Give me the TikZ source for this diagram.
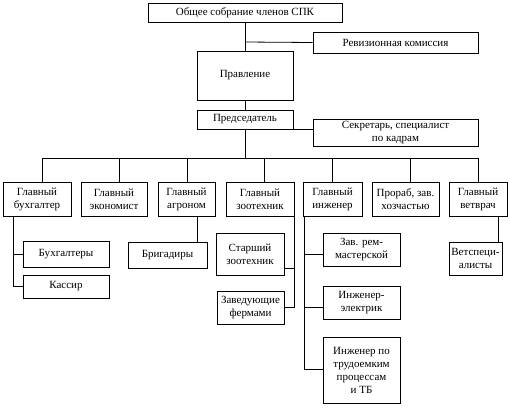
\documentclass[tikz,border=0pt]{standalone}
\usepackage{fontspec}
\setmainfont{Liberation Serif}
\usetikzlibrary{positioning}
\tikzstyle{block} = [rectangle, draw, line width=0.8pt, align=center,
    inner sep=1pt, font=\fontsize{11}{13}\selectfont]
\tikzstyle{line} = [draw, line width=0.8pt]

\begin{document}
\begin{tikzpicture}[x=1pt, y=-1pt]
	    \useasboundingbox (0,0) rectangle (510,408);
	    % Place nodes
	    \node [block, minimum width=194pt, minimum height=19pt] (sobranie) at (245,12.5) {Общее собрание членов СПК};
	    \node [block, minimum width=165pt, minimum height=21pt] (revizia) at (395.5,42.5) {Ревизионная комиссия};
	    \node [block, minimum width=96pt, minimum height=49pt] (pravlenie) at (245,75.5) {Правление};
	    \node [block, minimum width=96pt, minimum height=19pt] (predsed) at (245,119.5) {Председатель};
	    \node [block, minimum width=165pt, minimum height=27pt] (sekretar) at (395.5,132.5) {Секретарь, специалист\\по кадрам};
	    % Main row
	    \node [block, minimum width=68pt, minimum height=34pt] (buh) at (37,199) {Главный\\бухгалтер};
	    \node [block, minimum width=66pt, minimum height=34pt] (ekon) at (114,199) {Главный\\экономист};
	    \node [block, minimum width=57pt, minimum height=34pt] (agro) at (186.5,199) {Главный\\агроном};
	    \node [block, minimum width=68pt, minimum height=34pt] (zoo) at (260,199) {Главный\\зоотехник};
	    \node [block, minimum width=59pt, minimum height=34pt] (inzh) at (332.5,199) {Главный\\инженер};
	    \node [block, minimum width=67pt, minimum height=34pt] (prorab) at (405.5,199) {Прораб, зав.\\хозчастью};
	    \node [block, minimum width=58pt, minimum height=34pt] (vet) at (478,199) {Главный\\ветврач};
	    % Subordinates
	    \node [block, minimum width=86pt, minimum height=26pt] (buhi) at (66,254) {Бухгалтеры};
	    \node [block, minimum width=86pt, minimum height=23pt] (kassir) at (66,286.5) {Кассир};
	    \node [block, minimum width=79pt, minimum height=26pt] (brig) at (167.5,255) {Бригадиры};
	    \node [block, minimum width=68pt, minimum height=42pt] (starsh) at (250,254) {Старший\\зоотехник};
	    \node [block, minimum width=67pt, minimum height=33pt] (fermy) at (250.5,307.5) {Заведующие\\фермами};
	    \node [block, minimum width=77pt, minimum height=33pt] (zavrem) at (361.5,249.5) {Зав. рем-\\мастерской};
	    \node [block, minimum width=77pt, minimum height=33pt] (elektr) at (361.5,302.5) {Инженер-\\электрик};
	    \node [block, minimum width=77pt, minimum height=66pt] (trud) at (361.5,370) {Инженер по\\трудоемким\\процессам\\и ТБ};
	    \node [block, minimum width=53pt, minimum height=33pt] (vetspec) at (475.5,258.5) {Ветспеци-\\алисты};
	    % Draw edges
	    \coordinate (bus) at (245,158);
	    \path [line] (sobranie) -- (pravlenie);
	    \path [line] (pravlenie) -- (predsed);
	    \path [line] (predsed) -- (bus);
	    \path [line] (245,42) -- (revizia.west);
	    \path [line] (245,129) -- (sekretar.west |- 0,129);
	    \path [line] (42,158) -- (478,158);
	    \foreach \n/\x in {buh/42, ekon/119, agro/187, zoo/264, inzh/332, prorab/410, vet/478}
	        \path [line] (\x,158) -- (\n.north -| \x,0);
	    \path [line] (buh.south -| 13,0) |- (buhi.west);
	    \path [line] (buh.south -| 13,0) |- (kassir.west);
	    \path [line] (agro.south -| 197,0) -- (brig.north -| 197,0);
	    \path [line] (zoo.south east) |- (starsh.east |- 0,268);
	    \path [line] (zoo.south east) |- (fermy.east);
	    \path [line] (inzh.south -| 304,0) |- (zavrem.west |- 0,254);
	    \path [line] (inzh.south -| 304,0) |- (elektr.west |- 0,307);
	    \path [line] (inzh.south -| 304,0) |- (trud.west |- 0,369);
	    \path [line] (vet.south -| 498,0) -- (vetspec.north -| 498,0);
	\end{tikzpicture}
\end{document}
